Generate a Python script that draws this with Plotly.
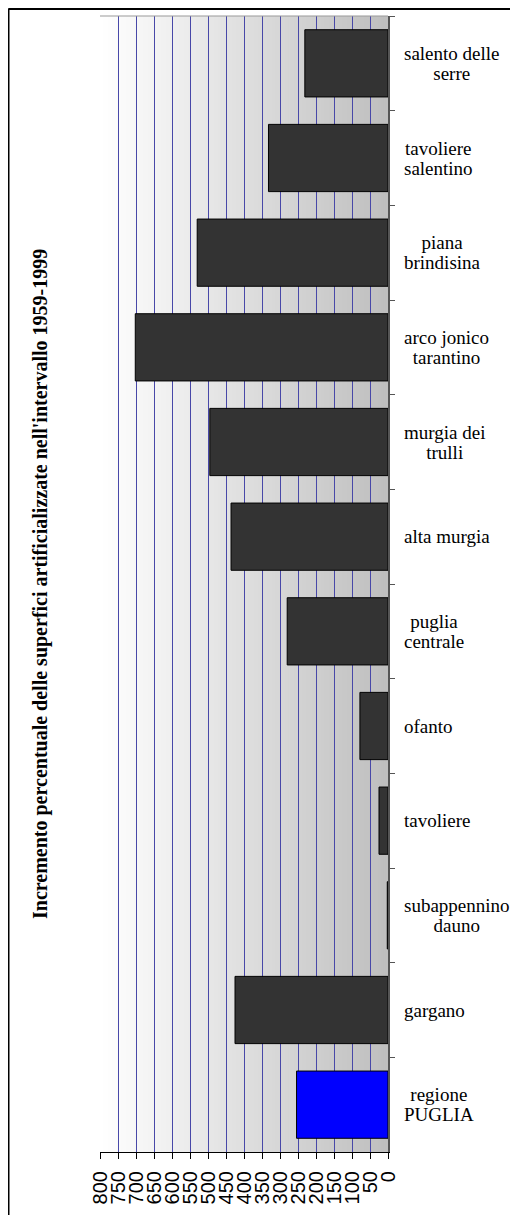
import plotly.graph_objects as go

categories = ["salento delle serre", "tavoliere salentino", "piana brindisina",
              "arco jonico tarantino", "murgia dei trulli", "alta murgia",
              "puglia centrale", "ofanto", "tavoliere", "subappennino dauno",
              "gargano", "regione PUGLIA"]
labels = ["salento delle<br>serre", "tavoliere<br>salentino", "piana<br>brindisina",
          "arco jonico<br>tarantino", "murgia dei<br>trulli", "alta murgia",
          "puglia<br>centrale", "ofanto", "tavoliere", "subappennino<br>dauno",
          "gargano", "regione<br>PUGLIA"]
values = [231, 332, 530, 702, 495, 436, 280, 78, 25, 2, 425, 254]
bar_colors = ["#333333"] * 11 + ["#0000ff"]
x_ticks = list(range(0, 801, 50))
title_text = "Incremento percentuale delle superfici artificializzate nell'intervallo 1959-1999"

# the page body adds an 8px offset; figure is sized to fit the 518x1215 window
W, H = 510, 1207
L, T = 92, 8
pw, ph = 288, 1136
R = W - L - pw
B = H - T - ph

fig = go.Figure()
fig.add_trace(go.Bar(
    y=categories, x=values, orientation="h",
    marker=dict(color=bar_colors, line=dict(color="#000000", width=1)),
    showlegend=False, hoverinfo="x+y",
))

shapes = []
# gradient background: white at 800 -> grey at 0 (overlapping strips, no seams)
n = 160
for i in range(n):
    v0 = 800 * i / n
    v1 = 800 * (i + 1) / n
    f = (v0 + v1) / 2 / 800.0
    g = int(round(190 + (255 - 190) * f))
    shapes.append(dict(type="rect", xref="x", yref="paper", x0=max(v0 - 3, 0), x1=v1,
                       y0=0, y1=1,
                       fillcolor=f"rgb({g},{g},{g})", line=dict(width=0), layer="below"))
# top border of plot area
shapes.append(dict(type="line", xref="paper", yref="paper", x0=0, x1=1, y0=1, y1=1,
                   line=dict(color="#999999", width=1)))
# outer frame (left and top edges visible)
shapes.append(dict(type="line", xref="paper", yref="paper",
                   x0=(0.5 - L) / pw, x1=(0.5 - L) / pw,
                   y0=-(H + 20 - (T + ph)) / ph, y1=1 + (T - 0.5) / ph,
                   line=dict(color="#000000", width=2), layer="above"))
shapes.append(dict(type="line", xref="paper", yref="paper",
                   x0=(0.5 - L) / pw, x1=(W + 20 - L) / pw,
                   y0=1 + (T - 1) / ph, y1=1 + (T - 1) / ph,
                   line=dict(color="#000000", width=2), layer="above"))

annotations = []
for cat, lab in zip(categories, labels):
    annotations.append(dict(x=(394 - L) / pw, xref="paper", y=cat, yref="y",
                            text='<span style="font-size:19px">' + lab + '</span>',
                            showarrow=False, xanchor="left", align="center",
                            yanchor="middle",
                            font=dict(family="Liberation Serif", size=15.5, color="#000000")))
annotations.append(dict(x=(32 - L) / pw, xref="paper", y=0.5, yref="paper",
                        text="<b>" + title_text + "</b>", textangle=-90, showarrow=False,
                        xanchor="center", yanchor="middle",
                        font=dict(family="Liberation Serif", size=20, color="#000000")))

fig.update_layout(
    width=W, height=H,
    margin=dict(l=L, r=R, t=T, b=B, pad=0),
    paper_bgcolor="#ffffff", plot_bgcolor="#ffffff",
    bargap=0.29,
    shapes=shapes, annotations=annotations,
    xaxis=dict(range=[800, 0], tickvals=x_ticks, ticktext=[str(v) for v in x_ticks],
               tickangle=-90, ticks="outside", ticklen=6, tickcolor="#000000",
               ticklabelstandoff=4,
               showline=True, linecolor="#000000", linewidth=1,
               showgrid=True, gridcolor="#4848a8", gridwidth=1, zeroline=False,
               tickfont=dict(family="Liberation Sans Narrow, Arial Narrow, Liberation Sans",
                             size=20, color="#000000")),
    yaxis=dict(autorange="reversed", side="right", showticklabels=False,
               ticks="outside", ticklen=5, tickcolor="#555555", tickson="boundaries",
               showline=True, linecolor="#555555", linewidth=1.5,
               showgrid=False, zeroline=False),
)

fig.write_html("out.html")
